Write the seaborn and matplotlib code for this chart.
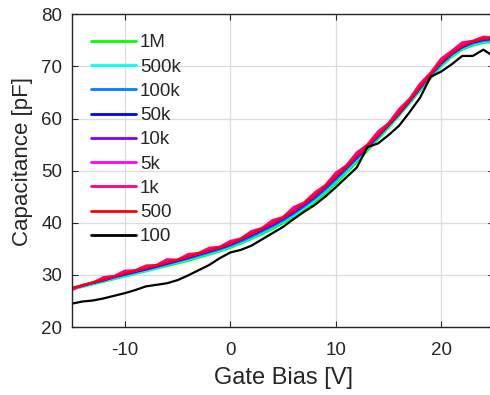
import numpy as np
import pandas as pd
import matplotlib
matplotlib.use("Agg")
import matplotlib.pyplot as plt
import seaborn as sns

# gate bias sweep (V)
bias = list(range(-15, 26))

c_1M = [27.2, 27.7, 28.2, 28.7, 29.2, 29.7, 30.2, 30.7, 31.2, 31.7, 32.2, 32.7, 33.3, 33.9, 34.5,
        35.2, 36.0, 36.9, 37.8, 38.8, 39.9, 41.1, 42.4, 43.9, 45.6, 47.5, 49.5, 51.6, 53.8, 56.0,
        58.2, 60.5, 62.9, 65.3, 67.7, 70.0, 71.8, 73.2, 74.0, 74.5, 74.7]
c_500k = [27.3, 27.8, 28.3, 28.8, 29.3, 29.8, 30.3, 30.8, 31.3, 31.9, 32.4, 32.9, 33.5, 34.1, 34.7,
          35.4, 36.2, 37.1, 38.1, 39.1, 40.2, 41.4, 42.8, 44.3, 46.0, 47.9, 49.9, 52.0, 54.1, 56.3,
          58.5, 60.7, 63.1, 65.5, 67.9, 70.2, 72.0, 73.4, 74.2, 74.7, 74.9]
c_100k = [27.4, 27.9, 28.4, 28.9, 29.5, 30.0, 30.5, 31.0, 31.5, 32.0, 32.6, 33.1, 33.7, 34.3, 34.9,
          35.6, 36.4, 37.3, 38.3, 39.3, 40.4, 41.7, 43.1, 44.6, 46.3, 48.2, 50.2, 52.3, 54.3, 56.4,
          58.6, 60.8, 63.2, 65.7, 68.1, 70.4, 72.2, 73.6, 74.4, 74.9, 75.1]
c_50k = [27.4, 27.9, 28.5, 29.0, 29.6, 30.1, 30.6, 31.1, 31.6, 32.2, 32.7, 33.3, 33.9, 34.5, 35.1,
         35.8, 36.7, 37.6, 38.6, 39.6, 40.7, 42.0, 43.4, 44.9, 46.7, 48.6, 50.5, 52.5, 54.5, 56.6,
         58.7, 60.9, 63.3, 65.9, 68.5, 70.6, 72.4, 73.7, 74.6, 75.1, 75.3]
c_10k = [27.5, 28.0, 28.5, 29.1, 29.6, 30.2, 30.7, 31.2, 31.7, 32.3, 32.8, 33.4, 34.0, 34.6, 35.2,
         35.9, 36.8, 37.7, 38.7, 39.7, 40.8, 42.1, 43.5, 45.0, 46.8, 48.7, 50.6, 52.6, 54.6, 56.7,
         58.8, 61.0, 63.4, 66.0, 68.5, 70.7, 72.5, 73.8, 74.7, 75.2, 75.4]
c_5k = [27.3, 28.0, 28.6, 29.3, 29.7, 30.5, 30.8, 31.5, 31.8, 32.7, 32.9, 33.7, 34.1, 34.9, 35.3,
        36.2, 36.9, 38.1, 38.9, 40.2, 41.0, 42.7, 43.7, 45.5, 47.0, 49.3, 50.8, 53.2, 54.8, 57.2,
        58.9, 61.5, 63.5, 66.4, 68.5, 71.2, 72.6, 74.3, 74.8, 75.5, 75.5]
c_1k = [27.1, 28.1, 28.5, 29.6, 29.8, 30.8, 30.9, 31.8, 31.9, 33.0, 32.9, 34.0, 34.2, 35.2, 35.4,
        36.5, 37.0, 38.4, 39.0, 40.5, 41.1, 43.0, 43.9, 45.8, 47.2, 49.6, 51.0, 53.5, 55.0, 57.5,
        59.1, 61.8, 63.8, 66.7, 68.8, 71.5, 73.0, 74.6, 74.9, 75.7, 75.5]
c_500 = [27.5, 28.0, 28.6, 29.1, 29.7, 30.3, 30.8, 31.3, 31.8, 32.4, 32.9, 33.5, 34.1, 34.7, 35.3,
         36.0, 36.9, 37.9, 38.9, 39.9, 41.0, 42.3, 43.7, 45.2, 47.0, 48.9, 50.8, 52.8, 54.8, 56.8,
         58.9, 61.1, 63.5, 66.0, 68.5, 70.8, 72.6, 73.9, 74.8, 75.3, 75.5]
c_100 = [24.5, 24.9, 25.1, 25.5, 26.0, 26.5, 27.1, 27.8, 28.1, 28.4, 29.0, 29.9, 30.9, 31.9, 33.2,
         34.3, 34.8, 35.6, 36.8, 38.0, 39.2, 40.7, 42.1, 43.4, 45.0, 46.8, 48.7, 50.6, 54.5, 55.2,
         56.8, 58.6, 61.2, 64.0, 68.0, 69.0, 70.4, 72.0, 72.0, 73.2, 71.9]

freqs = ['1M', '500k', '100k', '50k', '10k', '5k', '1k', '500', '100']
colors = ['#00ff00', '#00ffff', '#0080ff', '#0000ff', '#8000ff', '#ff00ff', '#ff0080', '#ff0000', '#000000']
series = [c_1M, c_500k, c_100k, c_50k, c_10k, c_5k, c_1k, c_500, c_100]

df = pd.concat([pd.DataFrame({'bias': bias, 'cap': s, 'freq': f}) for f, s in zip(freqs, series)])

sns.set_style("whitegrid")
plt.rcParams['font.family'] = ['Liberation Sans', 'DejaVu Sans']
plt.rcParams['axes.unicode_minus'] = False

fig = plt.figure(figsize=(4.9, 3.95), dpi=100)
ax = fig.add_axes([0.147, 0.172, 0.861, 0.792])

sns.lineplot(data=df, x='bias', y='cap', hue='freq', hue_order=freqs, palette=colors,
             linewidth=1.6, ax=ax, sort=False, estimator=None)

ax.set_xlim(-15, 25)
ax.set_ylim(20, 80)
ax.set_xticks([-10, 0, 10, 20])
ax.set_yticks([20, 30, 40, 50, 60, 70, 80])
ax.grid(True, color='#dcdcdc', linewidth=0.9)
for sp in ax.spines.values():
    sp.set_color('#262626')
    sp.set_linewidth(1.0)
ax.tick_params(direction='in', length=4, width=0.8, colors='#262626', labelsize=13.5,
               top=True, right=True, bottom=True, left=True)
ax.tick_params(axis='y', pad=7)
ax.tick_params(axis='x', pad=11)
ax.set_xlabel('Gate Bias [V]', fontsize=17, color='#262626')
ax.set_ylabel('Capacitance [pF]', fontsize=16, color='#262626')
ax.xaxis.set_label_coords(0.501, -0.128)
ax.yaxis.set_label_coords(-0.092, 0.529)

leg = ax.legend(loc='upper left', bbox_to_anchor=(0.045, 0.936), frameon=False, fontsize=13.5,
                handlelength=2.4, handletextpad=0.2, labelspacing=0.38, borderaxespad=0,
                borderpad=0)
for line in leg.get_lines():
    line.set_linewidth(2.0)

plt.savefig('out.png', dpi=100)
